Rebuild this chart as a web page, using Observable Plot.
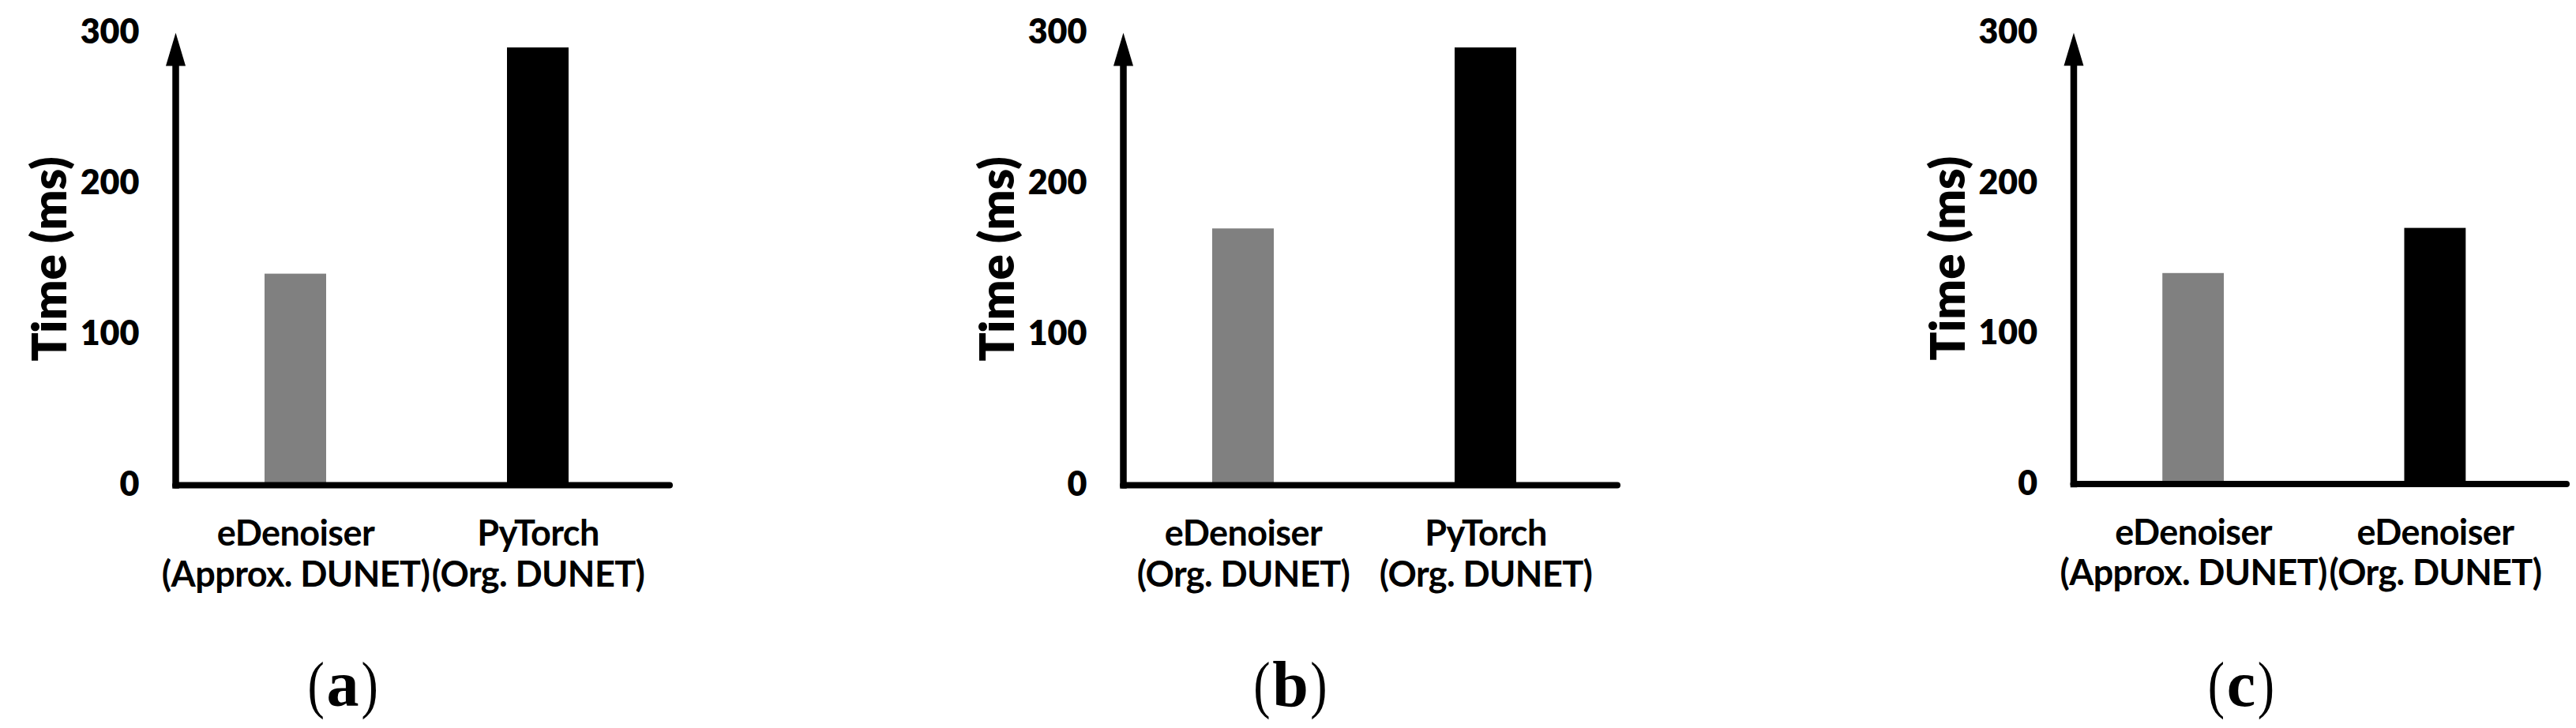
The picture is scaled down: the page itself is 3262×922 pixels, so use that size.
<!DOCTYPE html>
<html>
<head>
<meta charset="utf-8">
<script src="https://cdn.jsdelivr.net/npm/d3@7"></script>
<script src="https://cdn.jsdelivr.net/npm/@observablehq/plot@0.6"></script>
<style>
  body { margin: 0; background: #ffffff; }
  #fig { position: relative; width: 3262px; height: 922px; overflow: hidden; background: #fff; }
  .panel { position: absolute; top: 0; }
  .cap { position: absolute; top: 826px; font-family: "Liberation Serif", "DejaVu Serif", serif; line-height: 1; white-space: nowrap; transform: translateX(-50%); color: #000; }
  .cap .p { display: inline-block; font-size: 80px; font-weight: normal; transform: scaleX(0.8); }
  .cap b { font-size: 82px; font-weight: bold; }
</style>
</head>
<body>
<div id="fig"></div>
<script>
// ---- data ----
const categoriesA = ["eDenoiser\n(Approx. DUNET)", "PyTorch\n(Org. DUNET)"];
const valuesA = [140, 290];
const categoriesB = ["eDenoiser\n(Org. DUNET)", "PyTorch\n(Org. DUNET)"];
const valuesB = [170, 290];
const categoriesC = ["eDenoiser\n(Approx. DUNET)", "eDenoiser\n(Org. DUNET)"];
const valuesC = [140, 170];
const barColors = ["#808080", "#000000"];
const yTicks = [0, 100, 200, 300];
const yLabel = "Time (ms)";
const captions = ["a", "b", "c"];

// ---- layout ----
const panelLeft = [0, 1200, 2404];
const captionCenter = 434;
const W = 860, H = 760;

const arrowHead = {
  draw(ctx) {
    ctx.moveTo(0, 0);
    ctx.lineTo(12.5, 42);
    ctx.lineTo(-12.5, 42);
    ctx.closePath();
  }
};

const sets = [
  [categoriesA, valuesA],
  [categoriesB, valuesB],
  [categoriesC, valuesC]
];

const fig = document.getElementById("fig");

sets.forEach(([cats, vals], k) => {
  const rows = cats.map((c, i) => ({cat: c, value: vals[i], color: barColors[i]}));
  const plot = Plot.plot({
    width: W,
    height: H,
    marginLeft: 222,
    marginRight: 12,
    marginTop: 41,
    marginBottom: H - 614,
    style: {fontFamily: "Lato, 'Open Sans', sans-serif", fontWeight: "bold", color: "#000", background: "#fff", overflow: "visible"},
    x: {domain: cats, paddingInner: 0.747, paddingOuter: 0.39, align: 0.47},
    y: {domain: [0, 300], nice: false},
    marks: [
      Plot.barY(rows, {x: "cat", y: "value", fill: "color"}),
      Plot.axisX({tickSize: 0, tickPadding: 40, fontSize: 45, lineHeight: 1.15, label: null, fill: "#000"}),
      Plot.axisY(yTicks, {tickSize: 0, tickPadding: 46, fontSize: 43, fontWeight: 800, label: null, fill: "#000"}),
      Plot.axisY({ticks: [], tickSize: 0, label: yLabel, labelArrow: false, labelAnchor: "center", labelOffset: 181, fontSize: 60, fontWeight: 800, fill: "#000"}),
      Plot.frame({anchor: "left", stroke: "#000", strokeWidth: 8.5, insetTop: 30}),
      Plot.ruleY([0], {stroke: "#000", strokeWidth: 8, strokeLinecap: "round"}),
      Plot.dot([0], {frameAnchor: "top-left", symbol: arrowHead, fill: "#000", stroke: "none"})
    ]
  });
  d3.select(plot).selectAll('g[aria-label="x-axis tick label"] text').style("letter-spacing", "-0.6px");
  const wrap = document.createElement("div");
  wrap.className = "panel";
  wrap.style.left = panelLeft[k] + "px";
  wrap.appendChild(plot);
  fig.appendChild(wrap);

  const cap = document.createElement("div");
  cap.className = "cap";
  cap.style.left = (panelLeft[k] + captionCenter) + "px";
  cap.innerHTML = '<span class="p">(</span><b>' + captions[k] + '</b><span class="p">)</span>';
  fig.appendChild(cap);
});
</script>
</body>
</html>
